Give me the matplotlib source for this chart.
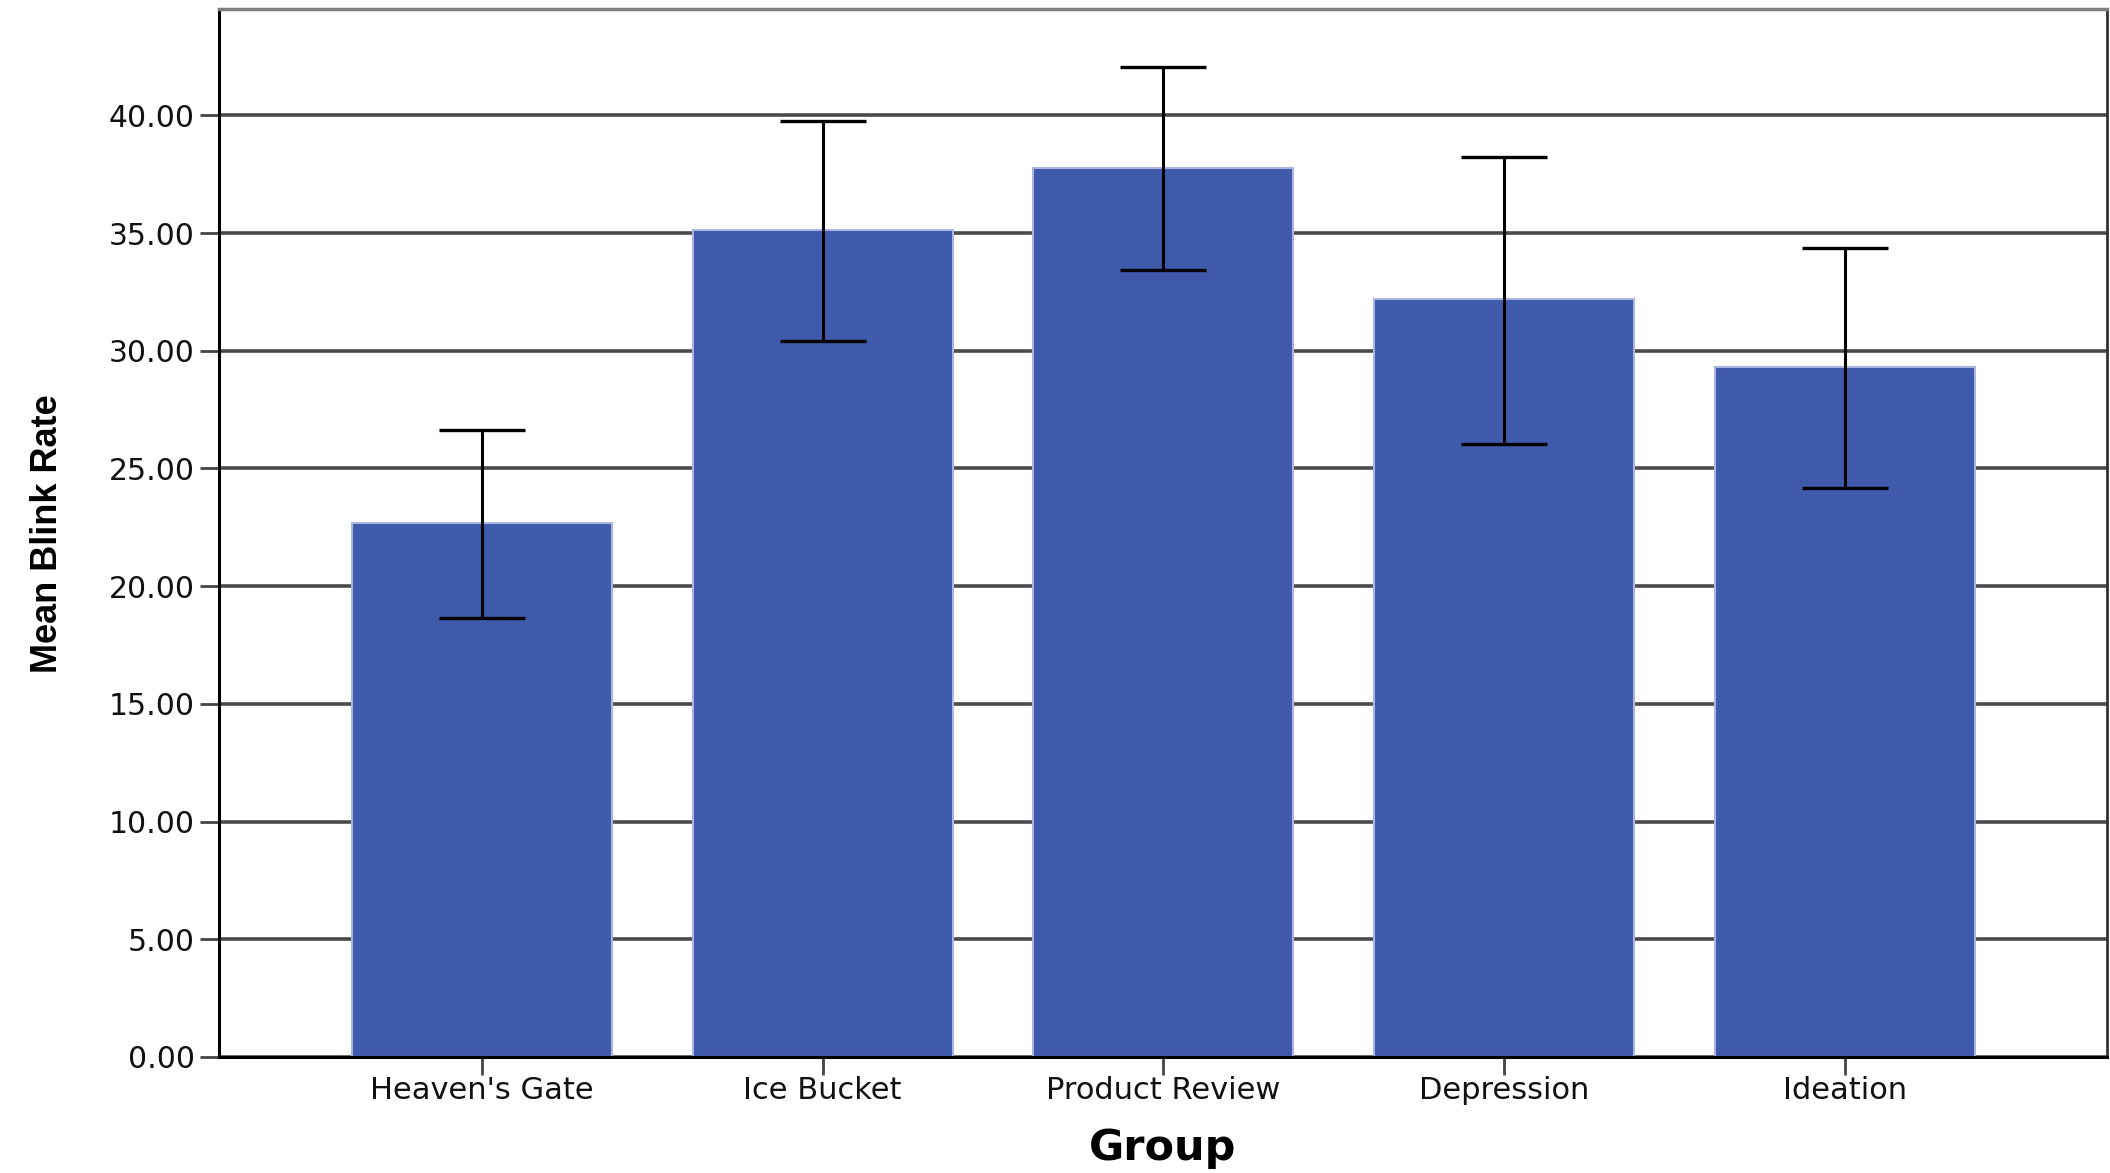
import numpy as np
import matplotlib
matplotlib.use("Agg")
import matplotlib.pyplot as plt
from matplotlib import font_manager

groups = ["Heaven's Gate", "Ice Bucket", "Product Review", "Depression", "Ideation"]
means = [22.68, 35.13, 37.76, 32.18, 29.29]
ci_low = [18.63, 30.43, 33.41, 26.02, 24.18]
ci_high = [26.63, 39.74, 42.04, 38.22, 34.36]
yticks = [0, 5, 10, 15, 20, 25, 30, 35, 40]

installed = {f.name for f in font_manager.fontManager.ttflist}
narrow = "Liberation Sans Narrow" if "Liberation Sans Narrow" in installed else None

fig = plt.figure(figsize=(21.1, 11.73), dpi=100)
ax = fig.add_axes([0.1038, 0.0989, 0.8948, 0.8931])

x = np.arange(len(groups))
m = np.array(means)
err = np.vstack([m - np.array(ci_low), np.array(ci_high) - m])

ax.bar(x, m, width=0.763, color="#3f59ab", edgecolor="#a9b5e0", linewidth=1.5, zorder=2)
ax.errorbar(x, m, yerr=err, fmt="none", ecolor="black", elinewidth=2.2,
            capsize=30.8, capthick=2.4, zorder=3)

ax.set_xlim(-0.772, 4.77)
ax.set_ylim(0, 44.5)
ax.set_yticks(yticks)
ax.set_yticklabels(["%.2f" % v for v in yticks])
ax.set_xticks(x)
ax.set_xticklabels(groups)

ax.set_axisbelow(True)
ax.yaxis.grid(True, color="#4a4a4a", linewidth=2.6)
ax.xaxis.grid(False)

ax.tick_params(axis="y", length=14, width=2, color="#444444", pad=3.6,
               labelsize=21.5, labelcolor="#111111")
ax.tick_params(axis="x", length=13, width=2, color="#444444", pad=1,
               labelsize=22, labelcolor="#111111")
for lab in ax.get_xticklabels() + ax.get_yticklabels():
    lab.set_fontfamily("DejaVu Sans")

ax.spines["top"].set_color("#808080")
ax.spines["top"].set_linewidth(2.5)
ax.spines["right"].set_color("#333333")
ax.spines["right"].set_linewidth(2)
ax.spines["left"].set_color("black")
ax.spines["left"].set_linewidth(2.2)
ax.spines["bottom"].set_color("black")
ax.spines["bottom"].set_linewidth(2.2)

ax.set_xlabel("Group", fontsize=31, fontweight="bold", family="DejaVu Sans")
ax.xaxis.label.set_va("baseline")
ax.xaxis.set_label_coords(0.5, -0.0983)

if narrow:
    ax.set_ylabel("Mean Blink Rate", fontsize=31, fontweight="bold", family=narrow)
else:
    ax.set_ylabel("Mean Blink Rate", fontsize=26, fontweight="bold",
                  family="Liberation Sans")
ax.yaxis.label.set_va("baseline")
ax.yaxis.set_label_coords(-0.0858, 0.5)

fig.savefig("out.png", dpi=100)
